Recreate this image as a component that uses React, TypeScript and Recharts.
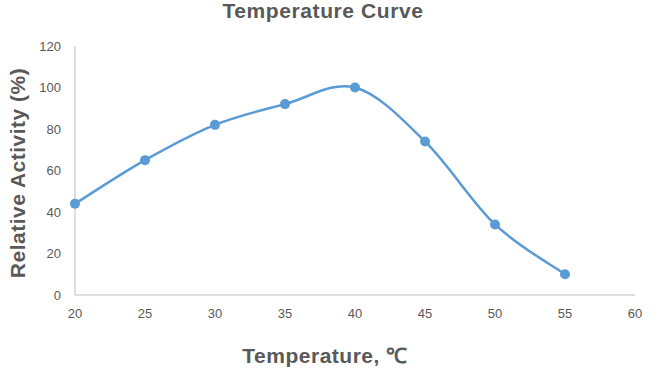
import { LineChart, Line, XAxis, YAxis, Label } from "recharts"

const temperatures = [20, 25, 30, 35, 40, 45, 50, 55]
const activity = [44, 65, 82, 92, 100, 74, 34, 10]
const xTicks = [20, 25, 30, 35, 40, 45, 50, 55, 60]
const yTicks = [0, 20, 40, 60, 80, 100, 120]

const data = temperatures.map((t, i) => ({ t, v: activity[i] }))

const textGray = "#595959"
const axisGray = "#BFBFBF"
const blue = "#5B9BD5"
const font = "'Liberation Sans', Arial, sans-serif"

// Excel-style smoothed line (Catmull-Rom converted to cubic beziers)
function excelSmooth(ctx: any) {
  let pts: number[][] = []
  return {
    areaStart() {},
    areaEnd() {},
    lineStart() {
      pts = []
    },
    point(x: number, y: number) {
      pts.push([+x, +y])
    },
    lineEnd() {
      const n = pts.length
      if (!n) return
      ctx.moveTo(pts[0][0], pts[0][1])
      for (let i = 0; i < n - 1; i++) {
        const p0 = pts[Math.max(i - 1, 0)]
        const p1 = pts[i]
        const p2 = pts[i + 1]
        const p3 = pts[Math.min(i + 2, n - 1)]
        ctx.bezierCurveTo(
          p1[0] + (p2[0] - p0[0]) / 6,
          p1[1] + (p2[1] - p0[1]) / 6,
          p2[0] - (p3[0] - p1[0]) / 6,
          p2[1] - (p3[1] - p1[1]) / 6,
          p2[0],
          p2[1]
        )
      }
    },
  }
}

const tickStyle = { fontSize: 13, fill: textGray, fontFamily: font }
const axisTitle = { fontSize: 21, fontWeight: "bold", fill: textGray, fontFamily: font, letterSpacing: 0.5 }

function XTitle({ viewBox }: any) {
  const cx = viewBox.x + viewBox.width / 2 - 30
  return (
    <text x={cx} y={363} textAnchor="middle" style={axisTitle}>
      Temperature, ℃
    </text>
  )
}

function YTitle() {
  return (
    <text x={25} y={173} textAnchor="middle" transform="rotate(-90, 25, 173)" style={axisTitle}>
      Relative Activity (%)
    </text>
  )
}

export default function App() {
  return (
    <div style={{ position: "absolute", left: 0, top: 0, width: 656, height: 376, background: "#fff" }}>
      <div
        style={{
          position: "absolute",
          left: -5,
          top: 0,
          width: 656,
          textAlign: "center",
          fontFamily: font,
          fontWeight: "bold",
          fontSize: 21,
          lineHeight: "21px",
          letterSpacing: 0.6,
          color: textGray,
        }}
      >
        Temperature Curve
      </div>
      <LineChart width={656} height={376} data={data} margin={{ top: 46, right: 21, left: 30, bottom: 51 }}>
        <XAxis
          dataKey="t"
          type="number"
          domain={[20, 60]}
          ticks={xTicks}
          tickLine={false}
          tickMargin={8}
          tick={tickStyle}
          stroke={axisGray}
          height={30}
          interval={0}
        >
          <Label content={XTitle} />
        </XAxis>
        <YAxis
          type="number"
          domain={[0, 120]}
          ticks={yTicks}
          tickLine={false}
          tickMargin={8}
          tick={tickStyle}
          stroke={axisGray}
          width={45}
          interval={0}
        >
          <Label content={YTitle} />
        </YAxis>
        <Line
          dataKey="v"
          type={excelSmooth as any}
          stroke={blue}
          strokeWidth={2.5}
          dot={{ r: 5, fill: blue, stroke: blue, strokeWidth: 0 }}
          activeDot={false}
          isAnimationActive={false}
        />
      </LineChart>
    </div>
  )
}
